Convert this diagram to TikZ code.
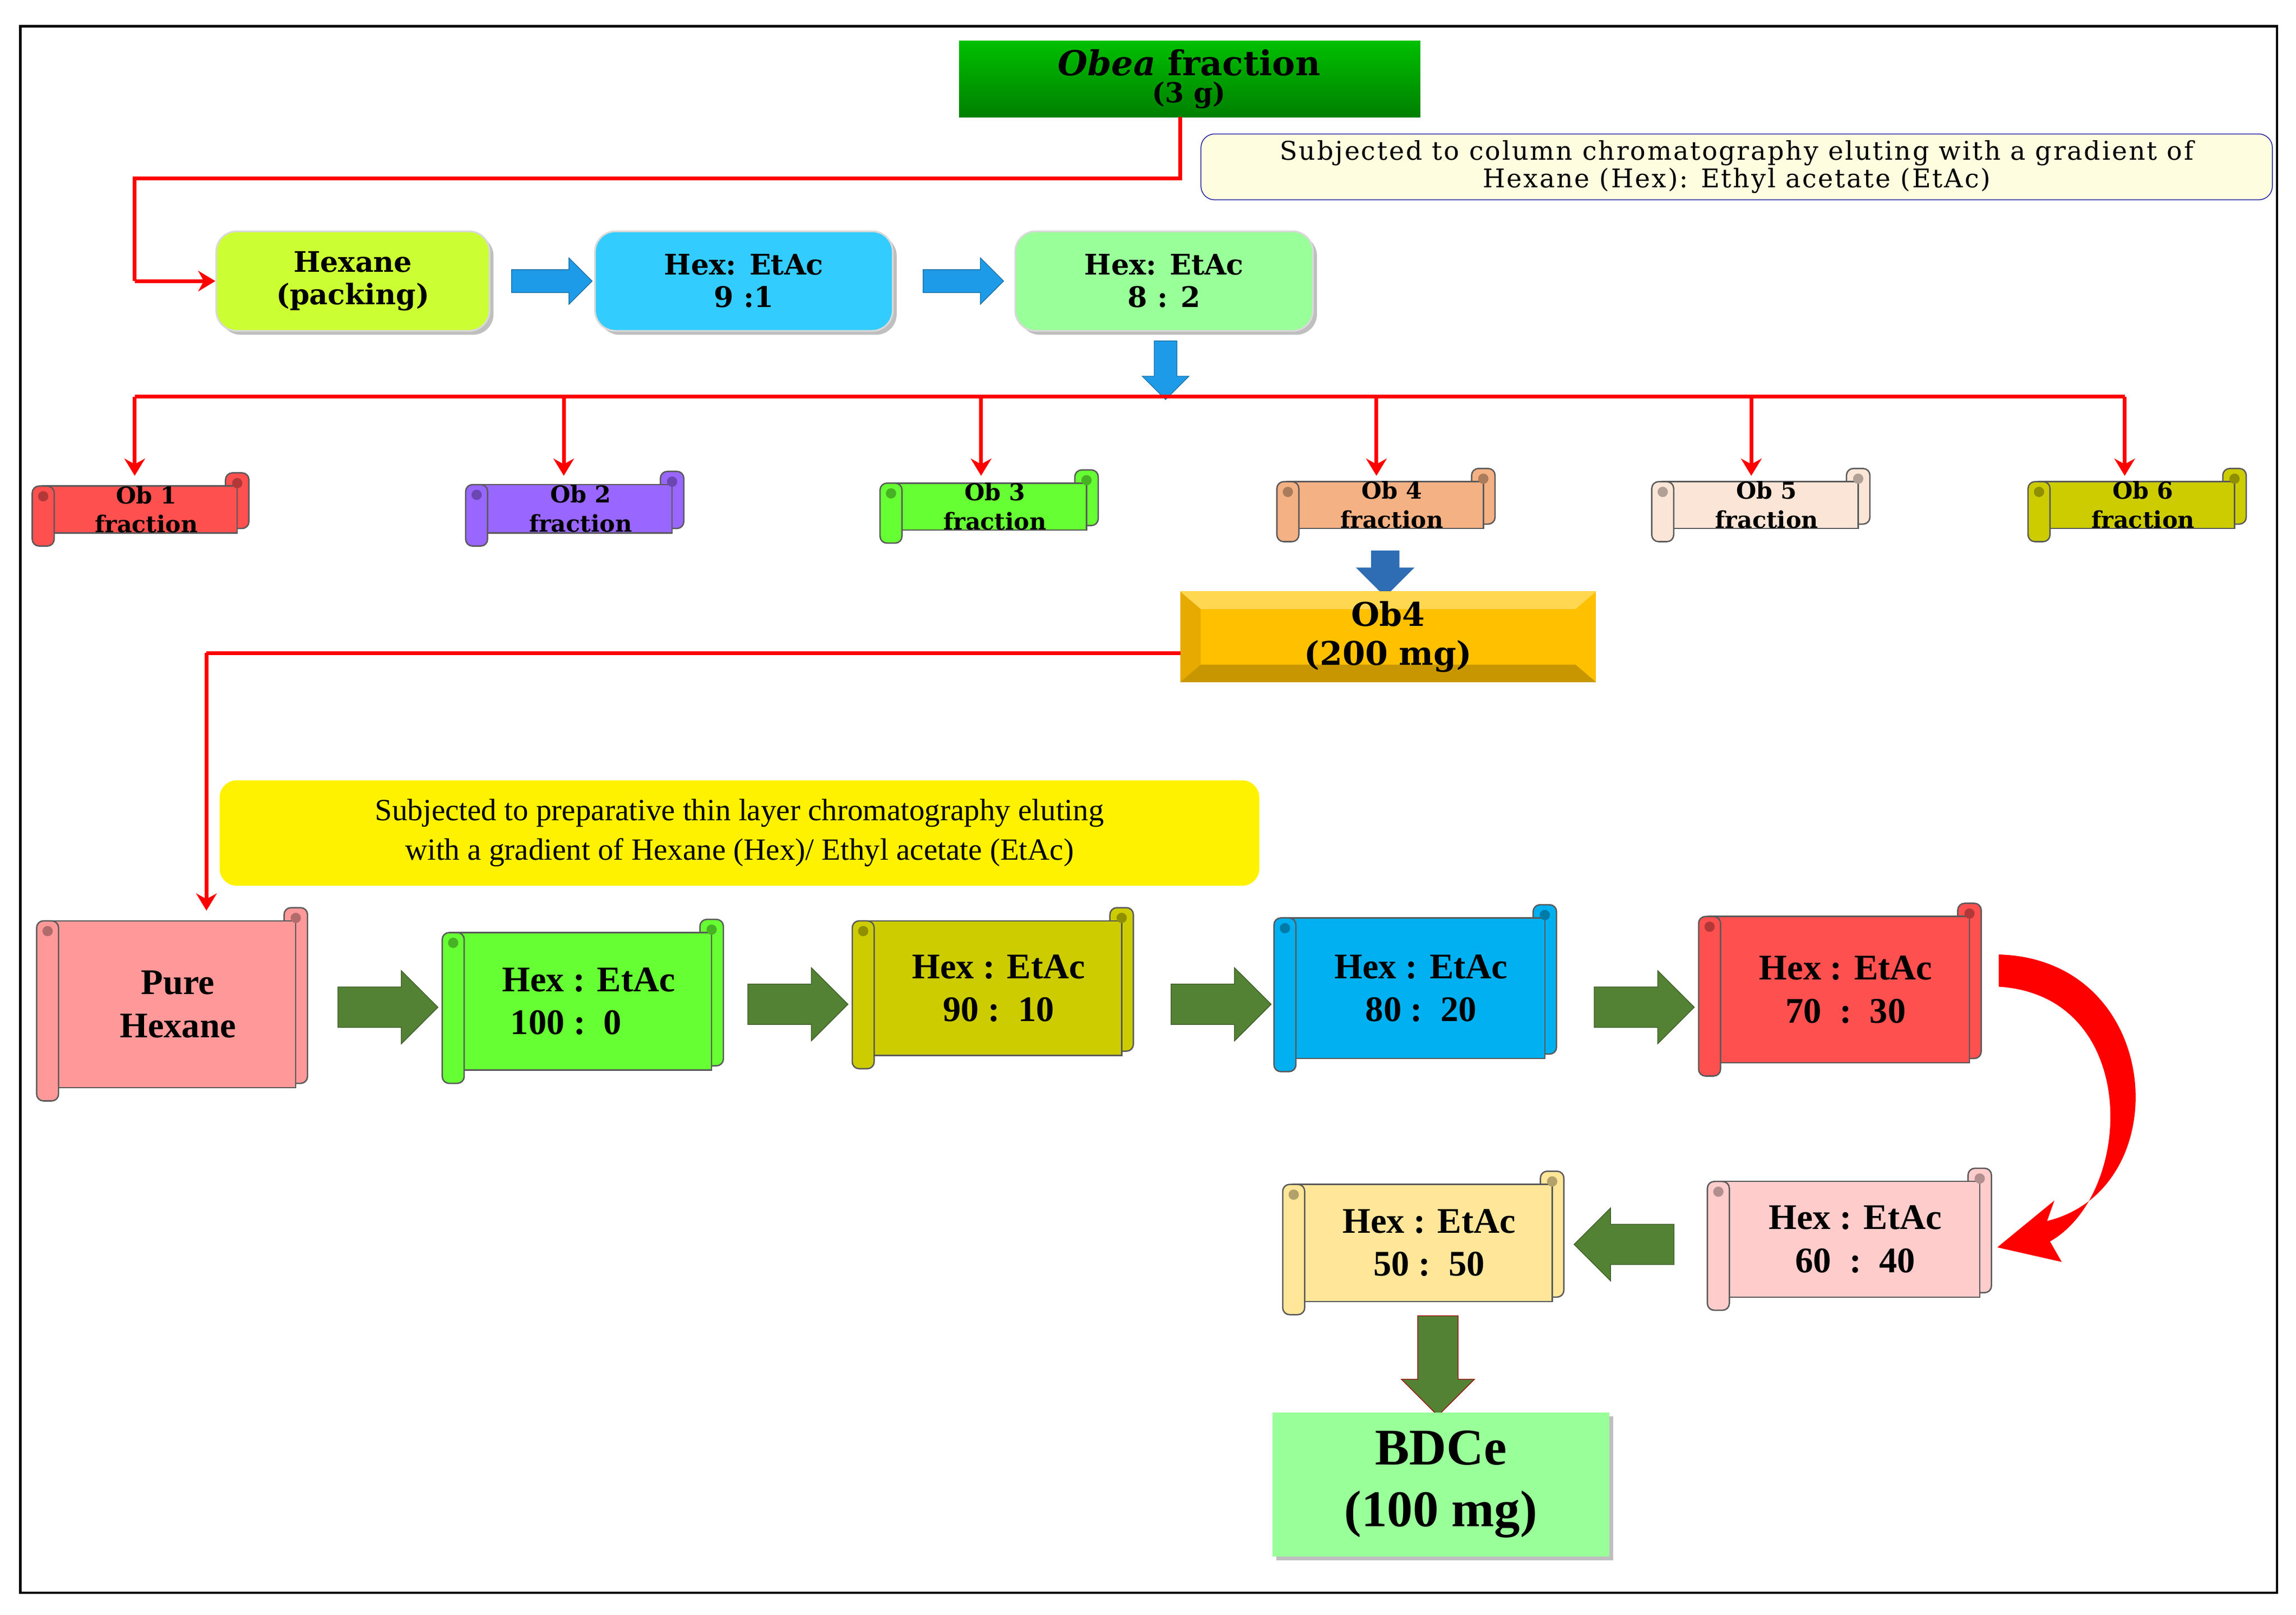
\documentclass[tikz,border=0pt]{standalone}
\usepackage{fontspec}
\setmainfont{Liberation Serif}
\newfontfamily\wide{DejaVu Serif}
\newfontfamily\widesp[LetterSpace=6]{DejaVu Serif}
\usetikzlibrary{shapes.arrows,shapes.misc,shadows,arrows.meta}
\definecolor{redl}{HTML}{FF0000}
\definecolor{agreen}{HTML}{548235}
\definecolor{ablue}{HTML}{1E9BE8}
\definecolor{steel}{HTML}{2E6DB4}
\definecolor{cob1}{HTML}{FF5050}
\definecolor{cob2}{HTML}{9966FF}
\definecolor{cob3}{HTML}{66FF33}
\definecolor{cob4}{HTML}{F4B183}
\definecolor{cob5}{HTML}{FBE5D6}
\definecolor{cob6}{HTML}{CCCC00}
\definecolor{cpink}{HTML}{FF9999}
\definecolor{csky}{HTML}{00B0F0}
\definecolor{crose}{HTML}{FFCCCC}
\definecolor{cbeige}{HTML}{FFE699}
\definecolor{clime}{HTML}{CCFF33}
\definecolor{ccyan}{HTML}{33CCFF}
\definecolor{cmint}{HTML}{99FF99}
\definecolor{cgold}{HTML}{FFC000}
\definecolor{cgoldl}{HTML}{FFD750}
\definecolor{cgoldd}{HTML}{C89600}
\definecolor{cgoldm}{HTML}{E6AA00}
\tikzset{
 x=0.03cm,y=-0.03cm,
 rline/.style={redl,line width=2.2pt},
 rarrow/.style={rline,-{Stealth[length=10pt,width=12pt]}},
 box/.style={rounded corners=12pt,draw=black!15,line width=1pt,drop shadow},
 scr/.style={draw=black!65,line width=0.8pt},
 ttop/.style={font=\wide\bfseries\fontsize{16.5}{19}\selectfont,align=center},
 tob/.style={font=\wide\bfseries\fontsize{13.5}{17}\selectfont,align=center},
 tbot/.style={font=\bfseries\fontsize{21}{25}\selectfont,align=center},
 garrow/.style={single arrow,fill=agreen,draw=agreen!70!black,inner sep=0pt,minimum height=2.05cm,minimum width=1.5cm,single arrow head extend=0.33cm},
 barrow/.style={single arrow,fill=ablue,draw=ablue!70!black,inner sep=0pt,minimum height=1.65cm,minimum width=0.95cm,single arrow head extend=0.24cm},
}
\newcommand\gsh{\rule{0pt}{0.8cm}}
\newcommand\bsh{\rule{0pt}{0.45cm}}
\newcommand\scrl[8]{% name,x1,y1,x2,y2,color,text,style
 \draw[scr,fill=#6,rounded corners=4pt] ({#4-16},#3) rectangle (#4,{#5-12});
 \draw[scr,fill=#6] ({#2+7},{#3+9}) rectangle ({#4-8},{#5-9});
 \draw[scr,fill=#6,rounded corners=4pt] (#2,{#3+9}) rectangle ({#2+15},#5);
 \fill[#6!70!black] ({#2+7.5},{#3+16}) circle (3pt);
 \fill[#6!70!black] ({#4-8},{#3+7}) circle (3pt);
 \node[#8] (#1) at ({(#2+#4)/2+4},{(#3+#5)/2}) {#7};
}
\begin{document}
\begin{tikzpicture}
\useasboundingbox (0,0) rectangle (1568,1103);
\fill[white] (0,0) rectangle (1568,1103);
\draw[line width=1.5pt] (14,18) rectangle (1555,1088);

% top
\shade[top color=green!75!black,bottom color=green!50!black] (655,28) rectangle (970,80);
\node[ttop,font=\wide\bfseries\fontsize{20}{19}\selectfont] (obea) at (812,54) {\textit{Obea} fraction\\[-3pt]{\fontsize{16}{16}\selectfont(3 g)}};
\node[draw=blue!60!black,fill=yellow!12,rounded corners=8pt,minimum width=21.95cm,minimum height=1.35cm,font=\widesp\fontsize{15}{16}\selectfont,align=center,inner sep=0pt] (note) at (1186,114) {Subjected to column chromatography eluting with a gradient of\\Hexane (Hex): Ethyl acetate (EtAc)};
\coordinate (c1) at (806,122); \coordinate (c2) at (92,122); \coordinate (c3) at (92,192);
\draw[rline] (806,80) -- (c1) -- (c2) -- (c3);
\node[box,fill=clime,minimum width=5.6cm,minimum height=2.04cm,ttop] (hx) at (241,192) {Hexane\\(packing)};
\draw[rarrow] (c3) -- (hx.west);
\node[box,fill=ccyan,minimum width=6.1cm,minimum height=2.04cm,ttop] (h91) at (508,192) {Hex: EtAc\\9 :1};
\node[box,fill=cmint,minimum width=6.1cm,minimum height=2.04cm,ttop] (h82) at (795,192) {Hex: EtAc\\8 : 2};
\node[barrow] (ba1) at (373,192) {\bsh};
\node[barrow] (ba2) at (654,192) {\bsh};
\node[barrow,rotate=270,minimum height=1.2cm] (ba3) at (796,249) {\bsh};

\coordinate (l0) at (92,271); \coordinate (l1) at (1451,271);
\draw[rline] (l0) -- (l1);
\foreach \x in {92,385,670,940,1196,1451} \draw[rarrow] (\x,271) -- (\x,325);
\scrl{ob1}{22}{323}{170}{373}{cob1}{Ob 1\\fraction}{tob}
\scrl{ob2}{318}{322}{467}{373}{cob2}{Ob 2\\fraction}{tob}
\scrl{ob3}{601}{321}{750}{371}{cob3}{Ob 3\\fraction}{tob}
\scrl{ob4}{872}{320}{1021}{370}{cob4}{Ob 4\\fraction}{tob}
\scrl{ob5}{1128}{320}{1277}{370}{cob5}{Ob 5\\fraction}{tob}
\scrl{ob6}{1385}{320}{1534}{370}{cob6}{Ob 6\\fraction}{tob}
\node[single arrow,rotate=270,fill=steel,inner sep=0pt,minimum height=0.95cm,minimum width=1.2cm,single arrow head extend=0.3cm] (ba4) at (946,387) {\rule{0pt}{0.55cm}};

% Ob4 bevel
\fill[cgold] (806,404) rectangle (1090,466);
\fill[cgoldm] (806,404) -- (820,416) -- (820,454) -- (806,466) -- cycle;
\fill[cgoldl] (806,404) -- (1090,404) -- (1076,416) -- (820,416) -- cycle;
\fill[cgoldd] (806,466) -- (1090,466) -- (1076,454) -- (820,454) -- cycle;
\node[ttop,font=\wide\bfseries\fontsize{19}{23}\selectfont] (ob4b) at (948,435) {Ob4\\(200 mg)};

\coordinate (d1) at (141,446);
\draw[rline] (806,446) -- (d1);
\draw[rarrow] (d1) -- (141,622);
\node[fill=yellow,rounded corners=10pt,minimum width=21.3cm,minimum height=2.16cm,font=\fontsize{18}{23}\selectfont,align=center,inner sep=0pt] (note2) at (505,569) {Subjected to preparative thin layer chromatography eluting\\with a gradient of Hexane (Hex)/ Ethyl acetate (EtAc)};

\scrl{s0}{25}{620}{210}{752}{cpink}{Pure\\Hexane}{tbot}
\scrl{s1}{302}{628}{494}{740}{cob3}{Hex : EtAc\\100 :\ \ 0\ \ \ \ \ \ }{tbot}
\scrl{s2}{582}{620}{774}{730}{cob6}{Hex : EtAc\\90 :\ \ 10}{tbot}
\scrl{s3}{870}{618}{1063}{732}{csky}{Hex : EtAc\\80 :\ \ 20}{tbot}
\scrl{s4}{1160}{617}{1353}{735}{cob1}{Hex : EtAc\\70\ \ :\ \ 30}{tbot}
\scrl{s5}{1166}{798}{1360}{895}{crose}{Hex : EtAc\\60\ \ :\ \ 40}{tbot}
\scrl{s6}{876}{800}{1068}{898}{cbeige}{Hex : EtAc\\50 :\ \ 50}{tbot}

\node[garrow] (g1) at (258,688) {\gsh};
\node[garrow] (g2) at (538,686) {\gsh};
\node[garrow] (g3) at (827,686) {\gsh};
\node[garrow] (g4) at (1116,688) {\gsh};
\node[garrow,rotate=180] (g5) at (1116,850) {\gsh};
\node[garrow,rotate=270,draw=red!60!black] (g6) at (982,926) {\gsh};

\fill[redl] (1365,652) .. controls (1478,655) and (1488,812) .. (1398,834)
  -- (1403,820) -- (1364,852) -- (1408,862) -- (1400,848)
  .. controls (1458,815) and (1462,680) .. (1365,674) -- cycle;

\node[fill=cmint,minimum width=6.9cm,minimum height=2.95cm,font=\bfseries\fontsize{30}{36}\selectfont,align=center,drop shadow] (bdce) at (984,1014) {BDCe\\(100 mg)};
\end{tikzpicture}
\end{document}
